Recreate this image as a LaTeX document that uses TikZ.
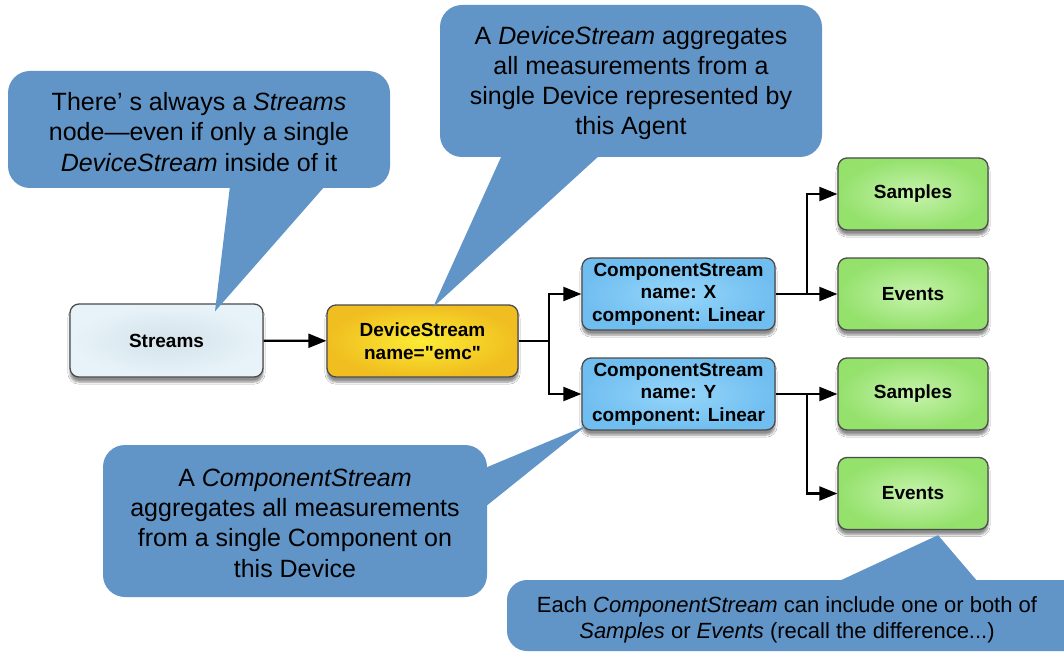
\documentclass[tikz,border=0pt]{standalone}
\usepackage{fontspec}
\setmainfont{Liberation Sans}[Ligatures=TeXOff]
\usetikzlibrary{arrows.meta,shadows.blur,calc}
\definecolor{callout}{RGB}{97,149,200}
\definecolor{boxline}{RGB}{75,75,75}
\tikzset{
  box/.style={draw=boxline, line width=1.3pt, rounded corners=9pt,
    font=\bfseries\fontsize{19}{22.5}\selectfont, align=center, inner sep=0pt,
    blur shadow={shadow xshift=0pt, shadow yshift=-5pt, shadow blur steps=6, shadow blur extra rounding=3pt, shadow opacity=45}},
  streamsbox/.style={box, inner color={rgb,255:red,212;green,226;blue,234}, outer color={rgb,255:red,232;green,243;blue,249},
    minimum width=193pt, minimum height=73pt},
  devbox/.style={box, inner color={rgb,255:red,252;green,236;blue,52}, outer color={rgb,255:red,240;green,190;blue,32},
    minimum width=191pt, minimum height=72pt},
  compbox/.style={box, inner color={rgb,255:red,150;green,214;blue,250}, outer color={rgb,255:red,112;green,190;blue,240},
    minimum width=193pt, minimum height=72pt},
  leafbox/.style={box, inner color={rgb,255:red,198;green,243;blue,172}, outer color={rgb,255:red,148;green,225;blue,108},
    minimum width=150pt, minimum height=72pt},
  conn/.style={line width=2.2pt, -{Triangle[length=18pt,width=14pt]}},
  plain/.style={line width=2.2pt},
  bubble/.style={fill=callout},
  ctext/.style={align=center, font=\fontsize{25}{30.3}\selectfont, text=black, inner sep=0pt},
  ctextsmall/.style={align=center, font=\fontsize{22}{26}\selectfont, text=black, inner sep=0pt}
}
\begin{document}
\begin{tikzpicture}[x=1pt,y=-1pt]
\useasboundingbox (0,0) rectangle (1064,652);
\fill[white] (0,0) rectangle (1064,652);

% main boxes
\node[streamsbox] (streams) at (166.5,340.5) {Streams};
\node[devbox] (dev) at (422.5,341) {DeviceStream\\name="emc"};
\node[compbox] (csx) at (678.5,294) {ComponentStream\\name: X\\component: Linear};
\node[compbox] (csy) at (678.5,394) {ComponentStream\\name: Y\\component: Linear};
\node[leafbox] (s1) at (913,194) {Samples};
\node[leafbox] (e1) at (913,294) {Events};
\node[leafbox] (s2) at (913,394) {Samples};
\node[leafbox] (e2) at (913,493.5) {Events};

% connectors
\coordinate (j1) at ($(dev.east)+(30,0)$);
\coordinate (j2) at ($(csx.east)+(31,0)$);
\coordinate (j3) at ($(csy.east)+(31,0)$);
\draw[conn] (streams) -- (dev);
\draw[plain] (dev.east) -- (j1);
\draw[conn] (j1) |- (csx.west);
\draw[conn] (j1) |- (csy.west);
\draw[conn] (csx.east) -- (e1.west);
\draw[conn] (j2) |- (s1.west);
\draw[conn] (csy.east) -- (s2.west);
\draw[conn] (j3) |- (e2.west);

% callout 1
\fill[bubble, rounded corners=22pt] (8,71) rectangle (390,188);
\fill[bubble] (230,186) -- ($(streams.north)+(48.5,8)$) -- (325,186) -- cycle;
\node[ctext] (c1) at (199,132) {There’ s always a \textit{Streams}\\node—even if only a single\\\textit{DeviceStream} inside of it};

% callout 2
\fill[bubble, rounded corners=22pt] (440,5) rectangle (822,157);
\fill[bubble] (502,155) -- ($(dev.north)+(10.5,3)$) -- (600,155) -- cycle;
\node[ctext] (c2) at (631,83) {A \textit{DeviceStream} aggregates\\all measurements from a\\single Device represented by\\this Agent};

% callout 3
\fill[bubble, rounded corners=22pt] (103,445) rectangle (487,597);
\fill[bubble] (485,468) -- ($(csy.south west)+(5,-5)$) -- (485,507) -- cycle;
\node[ctext] (c3) at (295,523) {A \textit{ComponentStream}\\aggregates all measurements\\from a single Component on\\this Device};

% callout 4
\fill[bubble, rounded corners=20pt] (507,580) rectangle (1110,651);
\fill[bubble] (837,582) -- ($(e2.south)+(25,5)$) -- (978,582) -- cycle;
\node[ctextsmall] (c4) at (787,620) {Each \textit{ComponentStream} can include one or both of\\\textit{Samples} or \textit{Events} (recall the difference...)};
\end{tikzpicture}
\end{document}
